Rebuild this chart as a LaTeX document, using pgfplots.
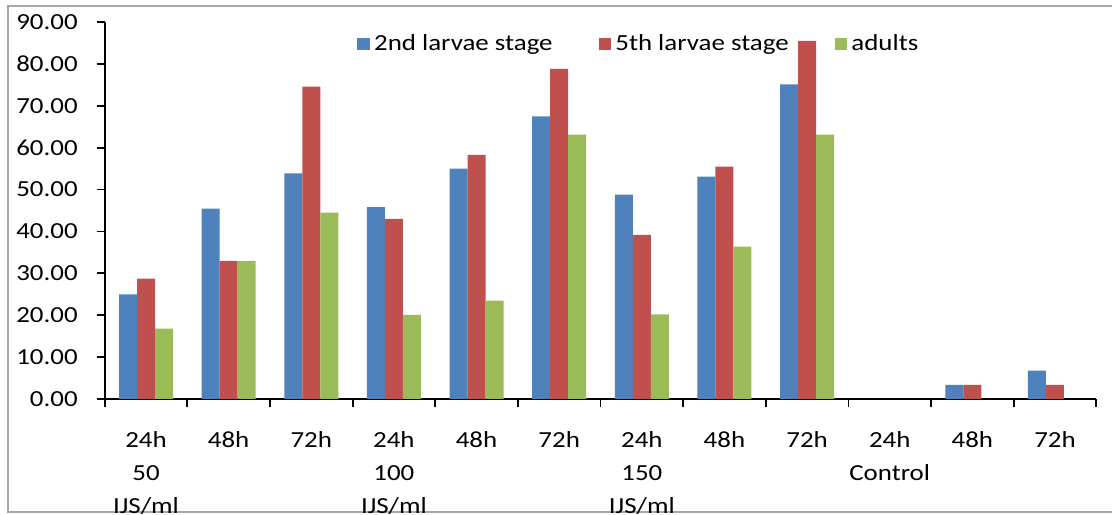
\documentclass[border=0pt]{standalone}
\usepackage{fontspec}
\setmainfont{Carlito}[FakeStretch=1.17]
\usepackage{pgfplots}
\pgfplotsset{compat=1.18}
\definecolor{cblue}{HTML}{4F81BD}
\definecolor{cred}{HTML}{C0504D}
\definecolor{cgreen}{HTML}{9BBB59}
\definecolor{frame}{HTML}{A6A6A6}
\begin{document}
\begin{tikzpicture}
\useasboundingbox (-52.35bp,-58bp) rectangle (503.65bp,199.5bp);
\draw[color=frame, line width=1.2bp] (505bp,196.5bp) -- (-48.35bp,196.5bp) -- (-48.35bp,-56.5bp) -- (505bp,-56.5bp);
\begin{axis}[
  at={(0,0)}, anchor=south west,
  scale only axis, width=495.8bp, height=188.5bp,
  xmin=-0.5, xmax=11.5, ymin=0, ymax=90,
  axis lines*=left,
  axis line style={line width=0.9bp, black},
  ybar=0pt, bar width=9bp,
  tick align=outside, major tick length=4bp,
  tick style={line width=0.9bp, black},
  ytick={0,10,...,90},
  yticklabel style={/pgf/number format/.cd, fixed, fixed zerofill, precision=2, assume math mode=true, /tikz/.cd, font=\fontsize{11.5bp}{14bp}\selectfont, anchor=east, xshift=-6bp},
  xtick={-0.5,0.5,...,11.5}, xticklabels={},
  extra x ticks={0,1,...,11},
  extra x tick labels={{24h\\50\\IJS/ml},48h,72h,{24h\\100\\IJS/ml},48h,72h,{24h\\150\\IJS/ml},48h,72h,{24h\\Control},48h,72h},
  extra x tick style={major tick length=0pt, tick style={draw=none}},
  xticklabel style={align=center, anchor=north, yshift=-12.5bp, font=\fontsize{11.5bp}{16.5bp}\selectfont},
  every axis plot post/.append style={legend image code/.code={\fill[##1] (0bp,-3.2bp) rectangle (6.4bp,3.2bp);}},
  legend style={at={(0.2544,0.9416)}, anchor=west, draw=none, fill=none, legend columns=3, inner sep=0pt,
    font=\fontsize{11.5bp}{14bp}\selectfont,
    /tikz/every even column/.append style={column sep=21bp}},
]
\addplot[fill=cblue, draw=none] coordinates {(0,25.0) (1,45.45) (2,53.85) (3,45.83) (4,55.0) (5,67.5) (6,48.8) (7,53.1) (8,75.1) (9,0) (10,3.4) (11,6.8)};
\addplot[fill=cred, draw=none] coordinates {(0,28.75) (1,33.0) (2,74.6) (3,43.0) (4,58.3) (5,78.8) (6,39.2) (7,55.5) (8,85.5) (9,0) (10,3.4) (11,3.4)};
\addplot[fill=cgreen, draw=none] coordinates {(0,16.8) (1,33.0) (2,44.5) (3,20.1) (4,23.5) (5,63.1) (6,20.2) (7,36.4) (8,63.1) (9,0) (10,0) (11,0)};
\legend{2nd larvae stage, 5th larvae stage, adults}
\end{axis}
\end{tikzpicture}
\end{document}
